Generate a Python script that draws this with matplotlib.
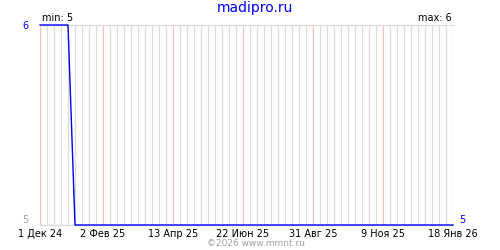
import numpy as np
import pandas as pd
import matplotlib
matplotlib.use("Agg")
import matplotlib.pyplot as plt
import matplotlib.dates as mdates

# weekly observations
start = "2024-12-01"
end = "2026-01-18"
values = [6, 6, 6, 6, 6,
          5, 5, 5, 5, 5, 5, 5, 5, 5, 5,
          5, 5, 5, 5, 5, 5, 5, 5, 5, 5,
          5, 5, 5, 5, 5, 5, 5, 5, 5, 5,
          5, 5, 5, 5, 5, 5, 5, 5, 5, 5,
          5, 5, 5, 5, 5, 5, 5, 5, 5, 5,
          5, 5, 5, 5, 5]
label_dates = ["2024-12-01", "2025-02-02", "2025-04-13", "2025-06-22",
               "2025-08-31", "2025-11-09", "2026-01-18"]
tick_labels = ["1 Дек 24", "2 Фев 25", "13 Апр 25", "22 Июн 25",
               "31 Авг 25", "9 Ноя 25", "18 Янв 26"]
title = "madipro.ru"
credit = "©2026 www.mmnt.ru"

dates = pd.date_range(start, end, freq="7D")
label_dates = pd.to_datetime(label_dates)

fig = plt.figure(figsize=(5, 2.5), dpi=100)
ax = fig.add_axes([0.08, 0.10, 0.826, 0.80])

# weekly grid lines, pink at labelled dates
for d in dates:
    col = "#ffbcbc" if d in label_dates else "#dcdcdc"
    ax.axvline(d, color=col, lw=0.9, zorder=1)

ax.plot(dates, values, color="#0000ff", lw=1.0, zorder=3, clip_on=False)

ax.set_xlim(dates[0], dates[-1])
ax.set_ylim(5, 6)
for s in ["left", "right"]:
    ax.spines[s].set_visible(False)
for s in ["top", "bottom"]:
    ax.spines[s].set_color("#dcdcdc")
    ax.spines[s].set_linewidth(1.0)

ax.set_xticks(label_dates)
ax.set_xticklabels(tick_labels, fontsize=7)
ax.tick_params(axis="x", length=0, pad=3)

vmin, vmax = min(values), max(values)
ax.set_yticks([vmin, vmax])
ax.set_yticklabels([str(vmin), str(vmax)], fontsize=7)
ax.tick_params(axis="y", length=0, pad=8)
ylab = ax.get_yticklabels()
ylab[0].set_color("#a0a0a0")
ylab[0].set_verticalalignment("bottom")
ylab[1].set_color("#0000ff")

ax.text(0.005, 1.01, f"min: {vmin}", transform=ax.transAxes, fontsize=7,
        ha="left", va="bottom", color="black")
ax.text(0.997, 1.01, f"max: {vmax}", transform=ax.transAxes, fontsize=7,
        ha="right", va="bottom", color="black")
ax.text(1.015, 0.0, str(values[-1]), transform=ax.transAxes, fontsize=7,
        ha="left", va="bottom", color="#0000ff")

fig.text(0.51, 0.968, title, fontsize=10, color="#0000ff", ha="center", va="center")
fig.text(0.512, 0.028, credit, fontsize=6.5, color="#a0a0a0", ha="center", va="center")

fig.savefig("out.png", dpi=100)
